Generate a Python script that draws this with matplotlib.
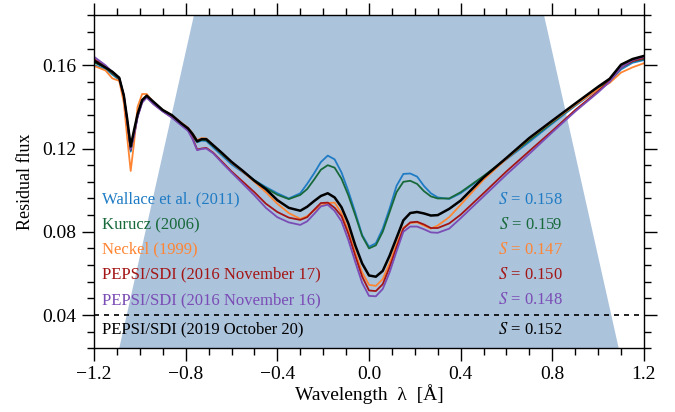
import numpy as np
import matplotlib
matplotlib.use("Agg")
import matplotlib.pyplot as plt
from matplotlib.ticker import MultipleLocator, FuncFormatter

plt.rcParams["font.family"] = ["Liberation Serif", "DejaVu Serif"]
plt.rcParams["mathtext.fontset"] = "stix"

## longitud de onda relativa al centro de la linea [A]
wl = [-1.20, -1.15, -1.12, -1.09, -1.07, -1.055, -1.04, -1.025, -1.01, -0.99,
      -0.97, -0.94, -0.90, -0.86, -0.82, -0.79, -0.77, -0.75, -0.73, -0.71,
      -0.68, -0.64, -0.60, -0.55, -0.50, -0.45, -0.40, -0.35,
      -0.30, -0.27, -0.24, -0.21, -0.18, -0.15, -0.12, -0.09, -0.06, -0.03, 0.00,
      0.03, 0.06, 0.09, 0.12, 0.15, 0.18, 0.21, 0.24, 0.27, 0.30,
      0.35, 0.40, 0.50, 0.60, 0.70, 0.80, 0.90, 1.00, 1.05, 1.10, 1.15, 1.20]

wallace = [0.1601, 0.1582, 0.1555, 0.1530, 0.1445, 0.1320, 0.1185, 0.1265, 0.1355, 0.1425,
           0.1447, 0.1415, 0.1380, 0.1352, 0.1313, 0.1288, 0.1262, 0.1230, 0.1238, 0.1236,
           0.1205, 0.1165, 0.1124, 0.1085, 0.1048, 0.1015, 0.0985, 0.0960,
           0.0985, 0.1030, 0.1080, 0.1135, 0.1166, 0.1148, 0.1085, 0.0995, 0.0893, 0.0785, 0.0728,
           0.0745, 0.0815, 0.0912, 0.1020, 0.1078, 0.1080, 0.1065, 0.1020, 0.0985, 0.0965,
           0.0958, 0.0985, 0.1065, 0.1148, 0.1232, 0.1320, 0.1405, 0.1485, 0.1520, 0.1580, 0.1612, 0.1625]

kurucz = [0.1613, 0.1590, 0.1560, 0.1535, 0.1450, 0.1325, 0.1192, 0.1270, 0.1360, 0.1430,
          0.1450, 0.1420, 0.1383, 0.1355, 0.1318, 0.1295, 0.1265, 0.1232, 0.1242, 0.1240,
          0.1212, 0.1172, 0.1133, 0.1090, 0.1047, 0.1010, 0.0978, 0.0957,
          0.0977, 0.1005, 0.1050, 0.1098, 0.1120, 0.1108, 0.1055, 0.0975, 0.0880, 0.0780, 0.0720,
          0.0735, 0.0800, 0.0895, 0.0990, 0.1040, 0.1045, 0.1030, 0.0995, 0.0970, 0.0960,
          0.0960, 0.0990, 0.1068, 0.1152, 0.1240, 0.1325, 0.1410, 0.1490, 0.1525, 0.1590, 0.1620, 0.1630]

neckel = [0.1597, 0.1575, 0.1537, 0.1525, 0.1420, 0.1250, 0.1092, 0.1230, 0.1400, 0.1462,
          0.1462, 0.1420, 0.1385, 0.1360, 0.1325, 0.1300, 0.1272, 0.1240, 0.1250, 0.1248,
          0.1215, 0.1175, 0.1133, 0.1088, 0.1040, 0.0990, 0.0935, 0.0890,
          0.0862, 0.0875, 0.0902, 0.0925, 0.0938, 0.0940, 0.0890, 0.0805, 0.0700, 0.0605, 0.0545,
          0.0540, 0.0572, 0.0650, 0.0740, 0.0820, 0.0842, 0.0845, 0.0830, 0.0815, 0.0830,
          0.0870, 0.0930, 0.1050, 0.1150, 0.1248, 0.1330, 0.1410, 0.1485, 0.1515, 0.1565, 0.1590, 0.1610]

pepsi_nov17 = [0.1630, 0.1595, 0.1565, 0.1538, 0.1455, 0.1330, 0.1197, 0.1270, 0.1355, 0.1425,
               0.1448, 0.1415, 0.1380, 0.1350, 0.1315, 0.1290, 0.1250, 0.1195, 0.1200, 0.1203,
               0.1180, 0.1135, 0.1090, 0.1040, 0.0990, 0.0935, 0.0895, 0.0868,
               0.0857, 0.0870, 0.0905, 0.0938, 0.0940, 0.0915, 0.0875, 0.0790, 0.0685, 0.0585, 0.0518,
               0.0515, 0.0548, 0.0630, 0.0725, 0.0815, 0.0845, 0.0848, 0.0835, 0.0818, 0.0818,
               0.0840, 0.0882, 0.0985, 0.1090, 0.1188, 0.1285, 0.1385, 0.1475, 0.1525, 0.1590, 0.1620, 0.1635]

pepsi_nov16 = [0.1641, 0.1600, 0.1568, 0.1540, 0.1455, 0.1330, 0.1195, 0.1265, 0.1350, 0.1420,
               0.1445, 0.1412, 0.1378, 0.1348, 0.1312, 0.1285, 0.1245, 0.1192, 0.1198, 0.1200,
               0.1177, 0.1130, 0.1085, 0.1030, 0.0975, 0.0915, 0.0870, 0.0845,
               0.0833, 0.0850, 0.0885, 0.0922, 0.0930, 0.0900, 0.0850, 0.0760, 0.0655, 0.0555, 0.0492,
               0.0490, 0.0525, 0.0605, 0.0705, 0.0800, 0.0825, 0.0825, 0.0812, 0.0797, 0.0795,
               0.0815, 0.0865, 0.0970, 0.1075, 0.1175, 0.1278, 0.1378, 0.1470, 0.1520, 0.1590, 0.1625, 0.1640]

pepsi_oct20 = [0.1622, 0.1589, 0.1569, 0.1540, 0.1455, 0.1340, 0.1210, 0.1290, 0.1365, 0.1433,
               0.1454, 0.1424, 0.1385, 0.1360, 0.1322, 0.1297, 0.1270, 0.1235, 0.1245, 0.1245,
               0.1216, 0.1177, 0.1136, 0.1092, 0.1045, 0.1005, 0.0952, 0.0915,
               0.0901, 0.0920, 0.0947, 0.0972, 0.0985, 0.0965, 0.0918, 0.0840, 0.0735, 0.0648, 0.0590,
               0.0584, 0.0612, 0.0685, 0.0770, 0.0855, 0.0890, 0.0895, 0.0888, 0.0878, 0.0880,
               0.0910, 0.0950, 0.1061, 0.1155, 0.1251, 0.1334, 0.1416, 0.1497, 0.1535, 0.1603, 0.1630, 0.1645]

nombres = ["Wallace et al. (2011)", "Kurucz (2006)", "Neckel (1999)",
           "PEPSI/SDI (2016 November 17)", "PEPSI/SDI (2016 November 16)",
           "PEPSI/SDI (2019 October 20)"]
s_index = [0.158, 0.159, 0.147, 0.150, 0.148, 0.152]
series = [wallace, kurucz, neckel, pepsi_nov17, pepsi_nov16, pepsi_oct20]
colores = ["#1f7cc4", "#17693a", "#ff8533", "#a31515", "#7a4cb5", "black"]
anchos = [1.3, 1.3, 1.3, 1.3, 1.3, 1.8]
y_texto = [0.0955, 0.0833, 0.0713, 0.0593, 0.0472, 0.0330]

## filtro triangular HK
filtro_fwhm = 1.09
filtro_alto = 0.535
nivel_limite = 0.04

ymin, ymax = 0.024, 0.1843

fig = plt.figure(figsize=(6.75, 4.12), dpi=100)
ax = fig.add_axes([0.1393, 0.1546, 0.8147, 0.8097])

ax.fill_between([-filtro_fwhm, 0, filtro_fwhm], ymin, [ymin, ymin + filtro_alto, ymin],
                color="#acc3dc", lw=0, zorder=0)
ax.axhline(nivel_limite, color="black", ls=(0, (3, 3)), lw=1.2, zorder=1)

for y, c, lw in zip(series, colores, anchos):
    ax.plot(wl, y, color=c, lw=lw, zorder=2)

for nombre, s, c, yt in zip(nombres, s_index, colores, y_texto):
    ax.text(-1.165, yt, nombre, color=c, fontsize=12, va="center", ha="left")
    ax.text(0.845, yt, r"$S$ = %.3f" % s, color=c, fontsize=12, va="center", ha="right")

ax.set_xlim(-1.2, 1.2)
ax.set_ylim(ymin, ymax)
ax.xaxis.set_major_locator(MultipleLocator(0.4))
ax.xaxis.set_minor_locator(MultipleLocator(0.1))
ax.yaxis.set_major_locator(MultipleLocator(0.04))
ax.yaxis.set_minor_locator(MultipleLocator(0.008))
ax.xaxis.set_major_formatter(FuncFormatter(lambda v, p: ("%.1f" % v).replace("-", "\u2212")))
ax.yaxis.set_major_formatter(FuncFormatter(lambda v, p: "%.2f" % v))
ax.tick_params(which="both", direction="out", top=True, right=True, labelsize=14, width=1)
ax.tick_params(which="major", length=9)
ax.tick_params(which="minor", length=5)
for sp in ax.spines.values():
    sp.set_linewidth(1)

ax.set_xlabel("Wavelength  λ  [Å]", fontsize=14, labelpad=1)
ax.set_ylabel("Residual flux", fontsize=13, labelpad=6)

fig.savefig("out.png", dpi=100)
